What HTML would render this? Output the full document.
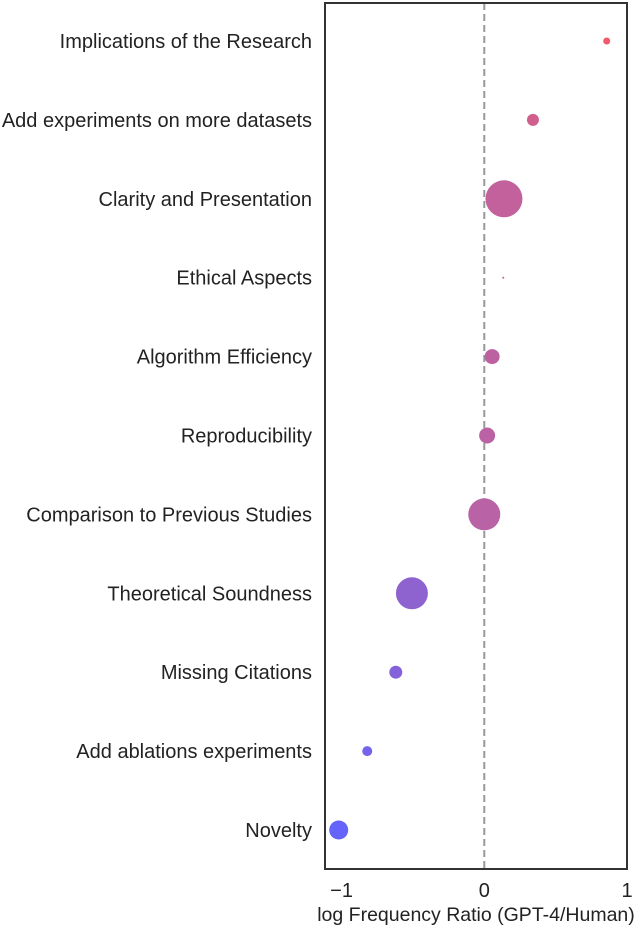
<!DOCTYPE html>
<html><head><meta charset="utf-8"><style>
body{margin:0;background:#fff;}
svg{display:block;font-family:"Liberation Sans",Arial,sans-serif;}
</style></head><body>
<svg id="chart" width="640" height="926">
<g id="plot"></g>
</svg>
<script>
const categories=["Implications of the Research","Add experiments on more datasets","Clarity and Presentation","Ethical Aspects","Algorithm Efficiency","Reproducibility","Comparison to Previous Studies","Theoretical Soundness","Missing Citations","Add ablations experiments","Novelty"];
const values=[0.858,0.341,0.138,0.133,0.055,0.02,0.0,-0.507,-0.62,-0.82,-1.02];
const sizes=[3.5,6,18.5,1,7.5,8,16,16,6.5,5,9.5];
const xTicks=[-1,0,1];
const xTickLabels=["\u22121","0","1"];

const L=325,R=627,T=3,B=869,xMin=-1.116,xMax=1.0;
const x=v=>L+(v-xMin)/(xMax-xMin)*(R-L);
const y=i=>41+i*78.9;
const NS="http://www.w3.org/2000/svg";
const g=document.getElementById('plot');
function mk(t,a){const e=document.createElementNS(NS,t);for(const k in a)e.setAttribute(k,a[k]);g.appendChild(e);return e;}
function col(v){
  const b=[100,100,250],m=[185,98,165],r=[245,90,105];
  let c;
  if(v<0){const t=Math.min(1,-v);c=m.map((q,k)=>Math.round(q+(b[k]-q)*t));}
  else{const t=Math.min(1,v/0.9);c=m.map((q,k)=>Math.round(q+(r[k]-q)*t));}
  return `rgb(${c.join(',')})`;
}
const zl=mk('line',{x1:x(0),x2:x(0),y1:T,y2:B,stroke:'#999',"stroke-width":2,"stroke-dasharray":"7,4"});


categories.forEach((c,i)=>{
  const t=mk('text',{x:312,y:y(i)+7,"text-anchor":"end","font-size":20,fill:"#222"});
  t.textContent=c;
  
  
  const p=mk('circle',{cx:x(values[i]),cy:y(i),r:sizes[i],fill:col(values[i])});
  
  
});
const fr=mk('rect',{x:L,y:T,width:R-L,height:B-T,fill:"none",stroke:"#333","stroke-width":2});


xTicks.forEach((v,i)=>{
  const t=mk('text',{x:x(v),y:897,"text-anchor":"middle","font-size":20,fill:"#222"});
  t.textContent=xTickLabels[i];
  
  
});
const xt=mk('text',{x:476,y:921,"text-anchor":"middle","font-size":19.5,fill:"#222"});
xt.textContent="log Frequency Ratio (GPT-4/Human)";


</script>
</body></html>
